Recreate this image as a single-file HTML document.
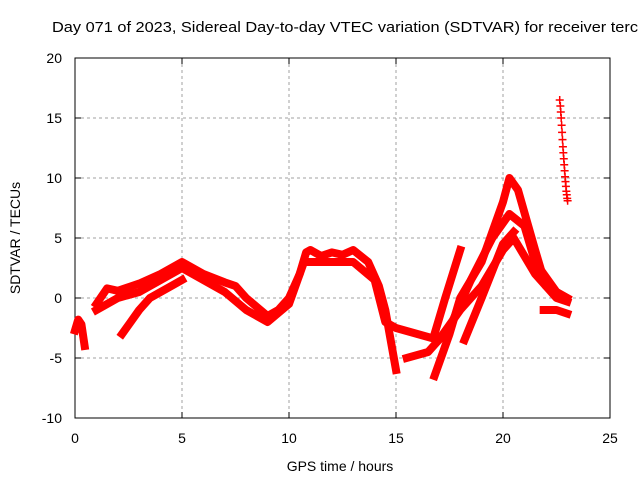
<!DOCTYPE html>
<html><head><meta charset="utf-8"><style>
body{margin:0;background:#fff;}
svg{display:block;font-family:"Liberation Sans",sans-serif;}
</style></head><body>
<svg id="chart" width="640" height="480">
<text x="52" y="32" font-size="14.5" textLength="586" lengthAdjust="spacingAndGlyphs" fill="#000">Day 071 of 2023, Sidereal Day-to-day VTEC variation (SDTVAR) for receiver terc</text>
<g id="grid"></g><g id="axes"></g><g id="marks"></g>
<text x="340" y="471" font-size="14" text-anchor="middle">GPS time / hours</text>
<text transform="translate(20,238) rotate(-90)" font-size="14" text-anchor="middle">SDTVAR / TECUs</text>
</svg>
<script>
const xTicks=[0,5,10,15,20,25];
const yTicks=[-10,-5,0,5,10,15,20];
const track0=[[0,-2.7],[0.15,-1.8],[0.3,-2.2],[0.45,-4]];
const track1=[[1,-0.5],[1.5,0.8],[2,0.6],[3,1.2],[4,2],[5,3],[6,2],[7,1.3],[7.5,1],[8,0],[9,-1.5],[9.5,-1],[10,0],[10.5,2],[10.8,3.8],[11,4],[11.5,3.5],[12,3.8],[12.5,3.6],[13,4],[13.7,3],[14.2,1],[14.5,-1],[15,-6]];
const track2=[[1,-1],[2,0],[3,0.5],[4,1.5],[5,2.5],[6,1.5],[7,0.5],[8,-1],[9,-2],[10,-0.5],[10.7,3],[11.5,3],[13,3],[14,1.5],[14.5,-2],[15,-2.5],[16,-3],[17,-3.5],[18,-1],[19,1],[20,4],[20.5,5],[21.5,2],[22.5,0],[23,-0.3]];
const track3=[[2.2,-3],[3,-1],[3.5,0],[4.5,1],[5,1.5]];
const track4=[[16.8,-6.5],[17.5,-3],[18,0],[19,3],[20,8],[20.3,10],[20.7,9],[21.5,4],[22,1],[23,0]];
const track5=[[15.5,-5],[16.5,-4.5],[17.5,-2.5],[18.5,1.5],[19.5,5],[20.3,7],[21,6],[21.5,3],[22.5,0.5],[23,0]];
const track6=[[18.2,-3.5],[19,0],[20,4.5],[20.5,5.5]];
const track7=[[16.8,-3],[17.3,0],[18,4]];
const track8=[[21.9,-1],[22.5,-1],[23,-1.3]];
const scatterX=[22.65,22.68,22.7,22.72,22.74,22.76,22.78,22.8,22.82,22.84,22.86,22.88,22.9,22.92,22.94,22.96,22.98,23,23.02];
const scatterY=[16.5,16,15.5,15,14.4,13.8,13.2,12.6,12.1,11.6,11.1,10.6,10.1,9.7,9.3,8.9,8.6,8.3,8.1];
const X=h=>75+h*(535/25), Y=v=>298-v*12;
const ns="http://www.w3.org/2000/svg";
const g=document.getElementById('grid'),a=document.getElementById('axes'),m=document.getElementById('marks');
function el(t,p,at){const e=document.createElementNS(ns,t);for(const k in at)e.setAttribute(k,at[k]);p.appendChild(e);return e;}
xTicks.forEach(t=>{
 if(t>0&&t<25){const l=el('line',g,{x1:X(t),x2:X(t),y1:58,y2:418,stroke:'#a0a0a0','stroke-dasharray':'3,3'});
 
 }
 el('line',a,{x1:X(t),x2:X(t),y1:418,y2:412,stroke:'#000'});el('line',a,{x1:X(t),x2:X(t),y1:58,y2:64,stroke:'#000'});
 const tx=el('text',a,{x:X(t),y:443,'font-size':14,'text-anchor':'middle'});tx.textContent=t;
 
 
});
yTicks.forEach(t=>{
 if(t>-10&&t<20){const l=el('line',g,{x1:75,x2:610,y1:Y(t),y2:Y(t),stroke:'#a0a0a0','stroke-dasharray':'3,3'});
 
 }
 el('line',a,{x1:75,x2:81,y1:Y(t),y2:Y(t),stroke:'#000'});el('line',a,{x1:610,x2:604,y1:Y(t),y2:Y(t),stroke:'#000'});
 const tx=el('text',a,{x:62,y:Y(t)+5,'font-size':14,'text-anchor':'end'});tx.textContent=t;
 
 
});
const fr=el('rect',a,{x:75,y:58,width:535,height:360,fill:'none',stroke:'#000'});


[track0,track1,track2,track3,track4,track5,track6,track7,track8].forEach((tr,i)=>{
 const p=el('polyline',m,{points:tr.map(d=>X(d[0])+','+Y(d[1])).join(' '),fill:'none',stroke:'#ff0000','stroke-width':8,'stroke-linejoin':'round','stroke-linecap':'square'});
 
 
});
scatterX.forEach((x,i)=>{
 const cx=X(x),cy=Y(scatterY[i]);
 const pt=el('path',m,{d:`M${cx-4},${cy}H${cx+4}M${cx},${cy-4}V${cy+4}`,stroke:'#ff0000','stroke-width':1.5});
 
 
});
</script>
</body></html>
